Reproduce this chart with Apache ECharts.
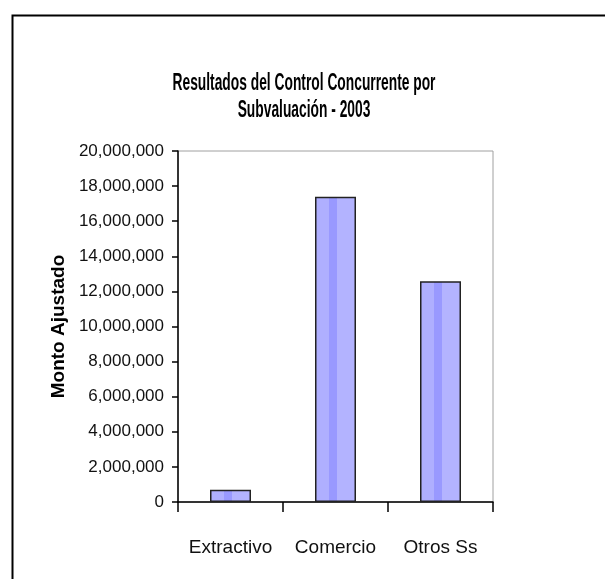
<!DOCTYPE html>
<html>
<head>
<meta charset="utf-8">
<script src="https://cdn.jsdelivr.net/npm/echarts@6/dist/echarts.min.js"></script>
<style>
  html, body { margin: 0; padding: 0; background: #fff; }
  #chart { width: 605px; height: 579px; }
</style>
</head>
<body>
<div id="chart"></div>
<script>
// Monto ajustado por sector, control concurrente 2003
var categories = ['Extractivo', 'Comercio', 'Otros Ss'];
var montos = [700000, 17400000, 12580000];
var yTicks = { min: 0, max: 20000000, interval: 2000000 };
var titleLines = ['Resultados del Control Concurrente por', 'Subvaluación - 2003'];
var yAxisTitle = 'Monto Ajustado';

function thousands(v) {
  return String(v).replace(/\B(?=(\d{3})+(?!\d))/g, ',');
}

// Stippled lavender fill: pale columns around a solid central stripe
var barFill = {
  type: 'linear', x: 0, y: 0, x2: 1, y2: 0,
  colorStops: [
    { offset: 0.00, color: '#afafff' },
    { offset: 0.33, color: '#afafff' },
    { offset: 0.33, color: '#9999ff' },
    { offset: 0.54, color: '#9999ff' },
    { offset: 0.54, color: '#b3b3ff' },
    { offset: 1.00, color: '#b3b3ff' }
  ]
};

// Condensed bold title lines, drawn as horizontally compressed text
var titleGraphics = titleLines.map(function (line, i) {
  return {
    type: 'text',
    x: 304,
    y: 84 + i * 27,
    scaleX: 0.6,
    silent: true,
    style: {
      text: line,
      fontFamily: 'Arial, sans-serif',
      fontWeight: 'bold',
      fontSize: 23,
      fill: '#000',
      align: 'center',
      verticalAlign: 'middle'
    }
  };
});

var chart = echarts.init(document.getElementById('chart'), null, { renderer: 'canvas' });
chart.setOption({
  animation: false,
  backgroundColor: '#ffffff',
  graphic: [{
    type: 'rect',
    left: 10, top: 13,
    shape: { width: 700, height: 700 },
    style: { fill: null, stroke: '#000', lineWidth: 2 },
    silent: true
  }].concat(titleGraphics),
  grid: {
    left: 178, top: 151, right: 112, bottom: 77,
    show: true, borderColor: '#a0a0a0', borderWidth: 1,
    backgroundColor: '#fff'
  },
  xAxis: {
    type: 'category',
    data: categories,
    axisLine: { lineStyle: { color: '#000', width: 1.5 } },
    axisTick: { show: true, length: 10, lineStyle: { color: '#000', width: 1.5 } },
    axisLabel: {
      interval: 0,
      margin: 36,
      fontFamily: 'Arial, sans-serif',
      fontSize: 19,
      color: '#111'
    },
    splitLine: { show: false }
  },
  yAxis: {
    type: 'value',
    min: yTicks.min, max: yTicks.max, interval: yTicks.interval,
    name: yAxisTitle,
    nameLocation: 'middle',
    nameGap: 108,
    nameTextStyle: {
      fontFamily: 'Arial, sans-serif',
      fontWeight: 'bold',
      fontSize: 19,
      color: '#000'
    },
    axisLine: { show: true, lineStyle: { color: '#000', width: 1.5 } },
    axisTick: { show: true, length: 6, lineStyle: { color: '#000', width: 1.5 } },
    axisLabel: {
      margin: 14,
      fontFamily: 'Arial, sans-serif',
      fontSize: 17,
      color: '#111',
      formatter: thousands
    },
    splitLine: { show: false }
  },
  series: [{
    type: 'bar',
    data: montos,
    barWidth: 41,
    itemStyle: {
      color: barFill,
      borderColor: '#222',
      borderWidth: 1.5
    }
  }]
});
</script>
</body>
</html>
